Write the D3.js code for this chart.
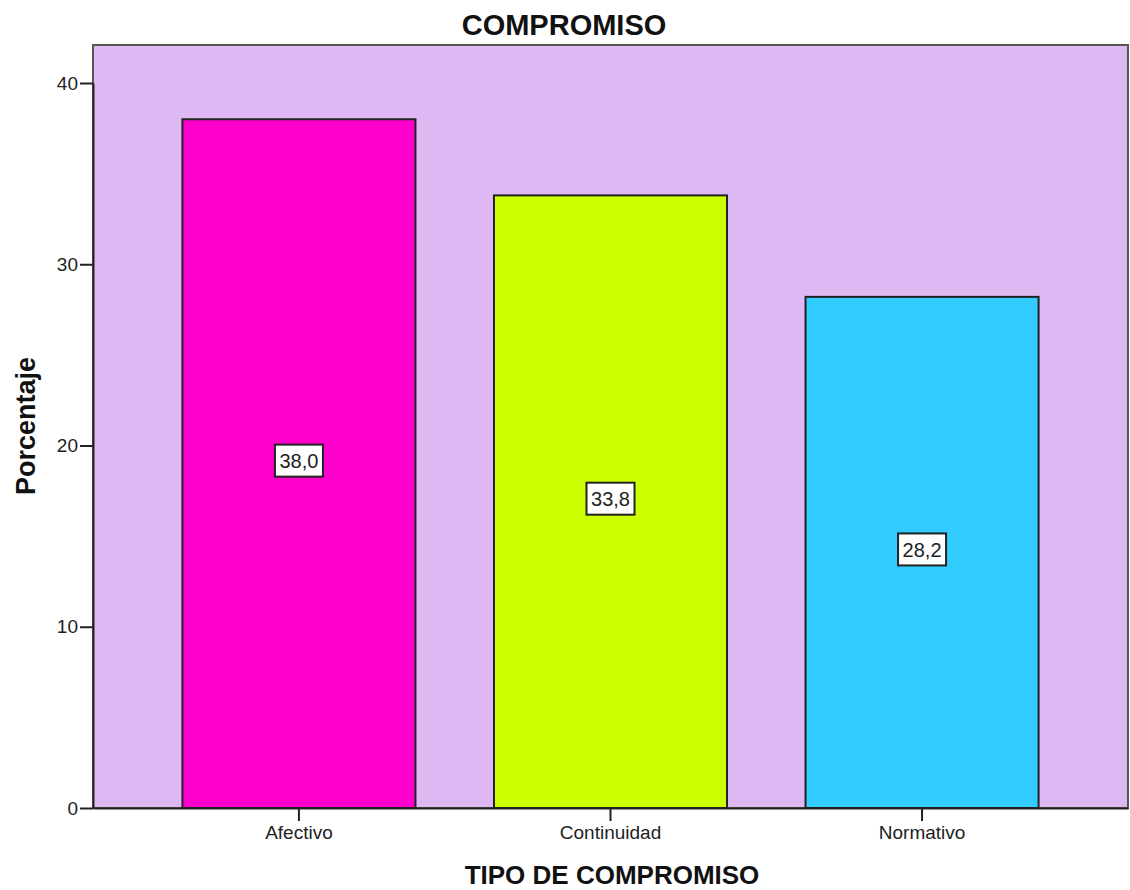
<!DOCTYPE html>
<html>
<head>
<meta charset="utf-8">
<script src="https://d3js.org/d3.v7.min.js"></script>
<style>
  html, body { margin: 0; padding: 0; background: #fff; }
  svg { display: block; font-family: "Liberation Sans", Arial, sans-serif; }
</style>
</head>
<body>
<svg id="chart" width="1130" height="890"></svg>
<script>
// Porcentaje por tipo de compromiso
const categories = ["Afectivo", "Continuidad", "Normativo"];
const values = [38.0, 33.8, 28.2];
const barColors = ["#FF00CC", "#CCFF00", "#33CCFF"];
const yTicks = [0, 10, 20, 30, 40];

const svg = d3.select("#chart");
const frame = { left: 93, right: 1128, top: 45, bottom: 808 };

const x = d3.scaleBand()
  .domain(categories)
  .range([frame.left, frame.right])
  .paddingInner(0.252)
  .paddingOuter(0.287);

const y = d3.scaleLinear()
  .domain([0, 40])
  .range([frame.bottom, 83]);

// plot background
svg.append("rect")
  .attr("x", frame.left)
  .attr("y", frame.top)
  .attr("width", frame.right - frame.left)
  .attr("height", frame.bottom - frame.top)
  .attr("fill", "#DEB8F2")
  .attr("stroke", "#555")
  .attr("stroke-width", 2);

// bars
svg.selectAll("rect.bar")
  .data(values)
  .join("rect")
  .attr("class", "bar")
  .attr("x", (d, i) => x(categories[i]))
  .attr("y", d => y(d))
  .attr("width", x.bandwidth())
  .attr("height", d => y(0) - y(d))
  .attr("fill", (d, i) => barColors[i])
  .attr("stroke", "#222")
  .attr("stroke-width", 2);

// value labels
const fmt = v => d3.format(".1f")(v).replace(".", ",");
const labels = svg.selectAll("g.lbl")
  .data(values)
  .join("g")
  .attr("class", "lbl")
  .attr("transform", (d, i) => `translate(${x(categories[i]) + x.bandwidth() / 2},${y(d / 2) - 3})`);
labels.append("rect")
  .attr("x", -24).attr("y", -16)
  .attr("width", 48).attr("height", 32)
  .attr("fill", "#fff")
  .attr("stroke", "#222")
  .attr("stroke-width", 2);
labels.append("text")
  .attr("text-anchor", "middle")
  .attr("dy", "0.36em")
  .attr("font-size", 20)
  .attr("fill", "#222")
  .text(d => fmt(d));

// y axis
const yAxis = d3.axisLeft(y).tickValues(yTicks).tickSize(13).tickSizeOuter(0).tickPadding(2).tickFormat(d3.format("d"));
const gy = svg.append("g").attr("transform", `translate(${frame.left},0)`).call(yAxis);
gy.select(".domain").attr("stroke", "#222").attr("stroke-width", 2);
gy.selectAll(".tick line").attr("stroke", "#222").attr("stroke-width", 2);
gy.selectAll(".tick text").attr("font-size", 19).attr("fill", "#222").attr("font-family", "Liberation Sans, Arial, sans-serif");

// x axis
const xAxis = d3.axisBottom(x).tickSize(13).tickSizeOuter(0).tickPadding(5);
const gx = svg.append("g").attr("transform", `translate(0,${frame.bottom})`).call(xAxis);
gx.select(".domain").attr("stroke", "#222").attr("stroke-width", 2);
gx.selectAll(".tick line").attr("stroke", "#222").attr("stroke-width", 2);
gx.selectAll(".tick text").attr("font-size", 19).attr("fill", "#222").attr("font-family", "Liberation Sans, Arial, sans-serif");

// titles
svg.append("text")
  .attr("x", 564).attr("y", 35)
  .attr("text-anchor", "middle")
  .attr("font-size", 29).attr("font-weight", "bold").attr("fill", "#111")
  .text("COMPROMISO");

svg.append("text")
  .attr("x", 612).attr("y", 884)
  .attr("text-anchor", "middle")
  .attr("font-size", 26).attr("font-weight", "bold").attr("fill", "#111")
  .text("TIPO DE COMPROMISO");

svg.append("text")
  .attr("transform", "translate(35,426) rotate(-90)")
  .attr("text-anchor", "middle")
  .attr("font-size", 27).attr("font-weight", "bold").attr("fill", "#111")
  .text("Porcentaje");
</script>
</body>
</html>
